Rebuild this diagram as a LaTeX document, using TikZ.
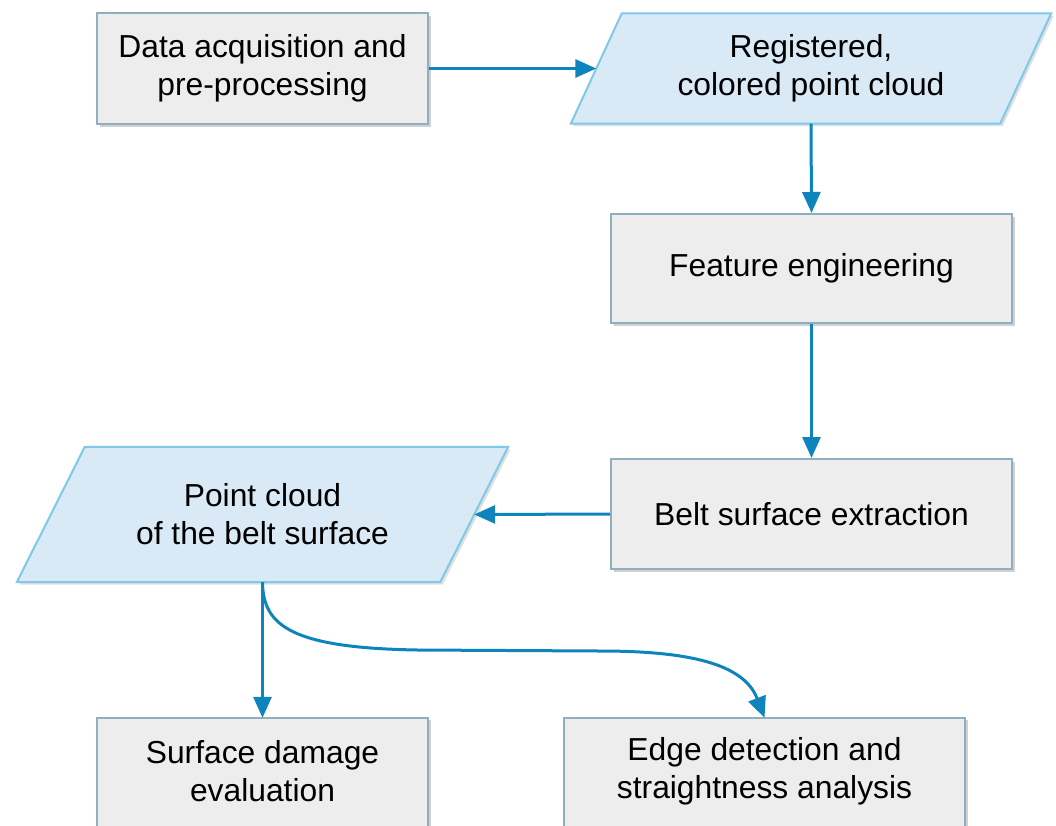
\documentclass[tikz,border=0pt]{standalone}
\usepackage{fontspec}
\setmainfont{Liberation Sans}
\usetikzlibrary{arrows.meta,shadows,backgrounds}
\definecolor{flowline}{HTML}{0E84BD}
\definecolor{boxfill}{HTML}{EDEDED}
\definecolor{boxedge}{HTML}{8FAFC0}
\definecolor{datafill}{HTML}{DAE9F6}
\definecolor{dataedge}{HTML}{7FC8EA}
\begin{document}
\begin{tikzpicture}[x=1pt,y=-1pt,
  label text/.style={align=center,font=\fontsize{31.8}{38}\selectfont,inner sep=0pt},
  boxshadow/.style={drop shadow={shadow xshift=2.5pt,shadow yshift=-2.5pt,fill=black,opacity=0.18}},
  procbox/.style={label text,draw=boxedge,line width=2pt,fill=boxfill,boxshadow},
  procframe/.style={draw=boxedge,line width=2pt,fill=boxfill,boxshadow},
  datatext/.style={label text,draw=none,rectangle},
  dataedge/.style={draw=dataedge,line width=2pt,fill=datafill},
  datashadow/.style={fill=black,opacity=0.12},
  flow/.style={draw=flowline,line width=3pt,-{Triangle[length=21pt,width=18pt]}}]
\useasboundingbox (0,0) rectangle (1056,825);
\clip (0,0) rectangle (1056,825);

% process steps
\node[procbox,minimum width=331pt,minimum height=111pt] (acq) at (262.5,68.5)
  {Data acquisition and\\pre-processing};
\node[procbox,minimum width=401pt,minimum height=109pt] (feat) at (811.5,268.5)
  {Feature engineering};
\node[procbox,minimum width=401pt,minimum height=110pt] (belt) at (811.5,514)
  {Belt surface extraction};
% the two result boxes run past the lower edge of the page
\node[datatext,minimum width=331pt,minimum height=106pt] (damage) at (262.5,771)
  {Surface damage\\evaluation};
\node[datatext,minimum width=401pt,minimum height=106pt] (edge) at (764.5,771)
  {Edge detection and\\straightness analysis};

% data items (parallelograms)
\node[datatext,minimum width=429pt,minimum height=110pt] (cloud) at (811,68.5)
  {Registered,\\colored point cloud};
\node[datatext,minimum width=423pt,minimum height=135pt] (surf) at (262.5,514.5)
  {Point cloud\\of the belt surface};

\begin{scope}[on background layer]
  \fill[white] (0,0) rectangle (1056,825);
  \path[procframe] (damage.north west) rectangle ([yshift=-30pt]damage.south east);
  \path[procframe] (edge.north west) rectangle ([yshift=-30pt]edge.south east);
  % registered cloud outline and shadow
  \fill[datashadow] ([shift={(28pt,-2.5pt)}]cloud.north west) -- ([shift={(28pt,-2.5pt)}]cloud.north east)
    -- ([shift={(-23pt,-2.5pt)}]cloud.south east) -- ([shift={(-23pt,-2.5pt)}]cloud.south west) -- cycle;
  \path[dataedge] ([xshift=25.5pt]cloud.north west) -- ([xshift=25.5pt]cloud.north east)
    -- ([xshift=-25.5pt]cloud.south east) -- ([xshift=-25.5pt]cloud.south west) -- cycle;
  % belt surface outline and shadow
  \fill[datashadow] ([shift={(36.5pt,-2.5pt)}]surf.north west) -- ([shift={(36.5pt,-2.5pt)}]surf.north east)
    -- ([shift={(-31.5pt,-2.5pt)}]surf.south east) -- ([shift={(-31.5pt,-2.5pt)}]surf.south west) -- cycle;
  \path[dataedge] ([xshift=34pt]surf.north west) -- ([xshift=34pt]surf.north east)
    -- ([xshift=-34pt]surf.south east) -- ([xshift=-34pt]surf.south west) -- cycle;
\end{scope}

% bend points of the branch towards the edge analysis
\coordinate (bendA) at (418,650);
\coordinate (bendB) at (600,651);

% connectors
\draw[flow] (acq.east) -- (cloud.west);
\draw[flow] (cloud.south) -- (feat.north);
\draw[flow] (feat.south) -- (belt.north);
\draw[flow] (belt.west) -- (surf.east);
\draw[flow] (surf.south) -- (damage.north);
\draw[flow] (surf.south) .. controls (263,625) and (290,648) .. (bendA)
  -- (bendB) .. controls (690,651) and (744,664) .. (edge.north);
\end{tikzpicture}
\end{document}
